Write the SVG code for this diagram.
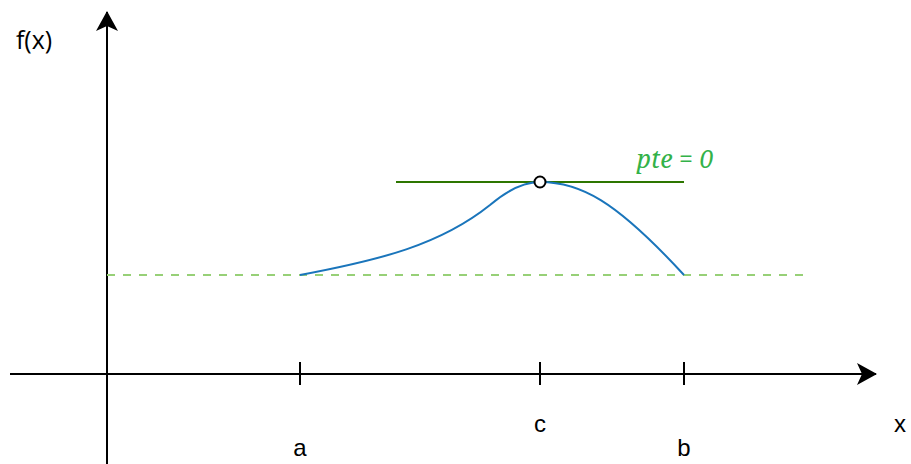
<svg xmlns="http://www.w3.org/2000/svg" width="911" height="464" viewBox="0 0 911 464">
<defs>
<style>
.ax{stroke:#000;stroke-width:2;fill:none}
.lbl{font-family:"Liberation Sans",Arial,sans-serif;font-size:24px;fill:#000;text-anchor:middle}
</style>
<marker id="arr" viewBox="0 0 20 22" refX="19" refY="11" markerWidth="20" markerHeight="22" markerUnits="userSpaceOnUse" orient="auto">
<path d="M0,0 L20,11 L0,22 L5,11 Z" fill="#000"/>
</marker>
</defs>
<rect width="911" height="464" fill="#fff"/>
<g id="connectors">
<line class="ax" x1="107" y1="464" x2="107" y2="12" marker-end="url(#arr)"/>
<line class="ax" x1="10" y1="374" x2="876" y2="374" marker-end="url(#arr)"/>
<line x1="107" y1="275" x2="805" y2="275" stroke="#97d077" stroke-width="2" stroke-dasharray="8 8"/>
<line x1="396" y1="182" x2="684" y2="182" stroke="#2d7600" stroke-width="2"/>
<path d="M300,275 C380,260 440,245 490,205 C510,188 525,182 540,182 C580,182 615,200 684,275" fill="none" stroke="#1a75bb" stroke-width="2"/>
</g>
<g id="ticks">
<line class="ax" x1="300" y1="362" x2="300" y2="385"/>
<line class="ax" x1="540" y1="362" x2="540" y2="385"/>
<line class="ax" x1="684" y1="362" x2="684" y2="385"/>
</g>
<g id="point"><circle cx="540" cy="182" r="5.5" fill="#fff" stroke="#000" stroke-width="2"/></g>
<g id="labels">
<text x="34" y="49" font-family="'Open Sans','Noto Sans',sans-serif" font-size="25" text-anchor="middle">f(x)</text>
<text class="lbl" x="300" y="456">a</text>
<text class="lbl" x="540" y="432">c</text>
<text class="lbl" x="684" y="456">b</text>
<text class="lbl" x="900" y="432">x</text>
<text x="675" y="168" font-family="'Noto Serif','DejaVu Serif','Liberation Serif',serif" font-style="italic" font-size="25" fill="#33b249" text-anchor="middle">pte = 0</text>
</g>
</svg>
